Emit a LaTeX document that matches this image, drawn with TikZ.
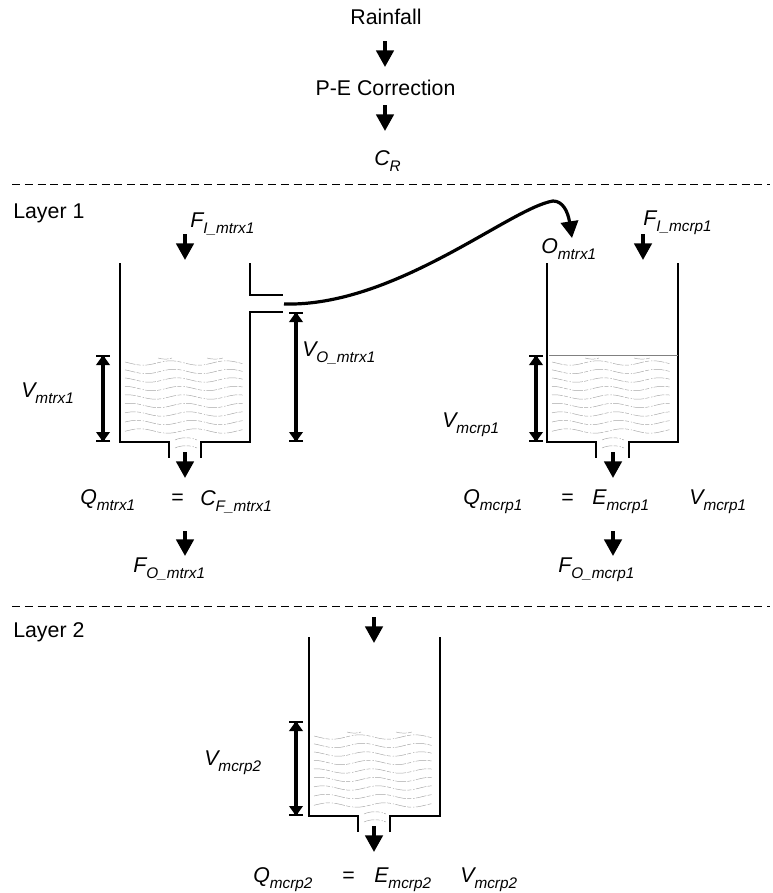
\documentclass[tikz,border=0pt]{standalone}
\usepackage{fontspec}
\setmainfont{Liberation Sans}
\usetikzlibrary{arrows.meta}
\newcommand{\lbl}[2]{{\itshape #1\raisebox{-0.3em}{\fontsize{11.5}{11.5}\selectfont #2}}}
\tikzset{
  x=0.75pt,y=-0.75pt,
  txt/.style={anchor=base west,inner sep=0pt,font=\fontsize{16}{18}\selectfont},
  ctxt/.style={anchor=base,inner sep=0pt,font=\fontsize{16}{18}\selectfont},
  flow/.style={line width=2.8pt,-{Triangle[length=12.5pt,width=13pt]}},
  wall/.style={line width=1pt,line cap=butt},
  dimen/.style={line width=2.6pt,{Bar[width=10.5pt,line width=1.8pt]Triangle[length=7.5pt,width=10pt,sep=-1.8pt]}-{Triangle[length=7.5pt,width=10pt,sep=-1.8pt]Bar[width=10.5pt,line width=1.8pt]}},
  sep/.style={line width=0.7pt,dash pattern=on 6pt off 3.6pt},
  wave/.style={line width=0.35pt,gray!70,dash pattern=on 8pt off 1pt on 3pt off 1.5pt on 1pt off 1pt},
  curve/.style={line width=2.4pt,-{Triangle[length=12.5pt,width=13pt]}}
}
% #1 left x, #2 y of the tank floor: water pattern
\newcommand{\waterpat}[2]{%
  \begin{scope}[shift={(#1,#2)}]
    \foreach \k in {0,...,8}{
      \draw[wave] plot[domain=5:124,samples=40,smooth] (\x,{-11-\k*8.5-2.2*sin(\x*6.5-40+\k*20)});
    }
    \draw[wave] (38,-84) .. controls (43,-82.5) and (48,-82.5) .. (52,-84);
    \draw[wave] (87,-84) .. controls (92,-82.5) and (98,-82.5) .. (103,-84);
    \draw[wave] (55,6) .. controls (61,3) and (71,3) .. (77,6);
    \draw[wave] (55,-2) .. controls (61,-5) and (71,-5) .. (77,-2);
  \end{scope}}
\begin{document}
\begin{tikzpicture}
\useasboundingbox (0,0) rectangle (772,893);

% top stack
\node[ctxt] (rain) at (386,24) {Rainfall};
\node[ctxt] (pe) at (385.5,95) {P-E Correction};
\node[txt] (cr) at (374,165) {\lbl{C}{R}};
\coordinate (a1) at (385,41);\coordinate (a2) at (385,67);
\coordinate (a3) at (385,105);\coordinate (a4) at (385,131);
\draw[flow] (a1) -- (a2);
\draw[flow] (a3) -- (a4);

% separators
\coordinate (s1a) at (12,184);\coordinate (s1b) at (770,184);
\coordinate (s2a) at (12,606);\coordinate (s2b) at (770,606);
\draw[sep] (s1a) -- (s1b);
\draw[sep] (s2a) -- (s2b);
\node[txt] (l1) at (13,218) {Layer 1};
\node[txt] (l2) at (13,637) {Layer 2};

% water
\waterpat{120}{442}
\waterpat{547}{442}
\waterpat{309}{816}

% tank 1
\draw[wall] (120,263) -- (120,442) -- (169,442) -- (169,458);
\draw[wall] (201,458) -- (201,442) -- (250,442) -- (250,312) -- (283,312);
\draw[wall] (250,263) -- (250,295) -- (283,295);
% tank 2
\draw[wall] (547,263) -- (547,442) -- (596,442) -- (596,458);
\draw[wall] (629,458) -- (629,442) -- (678,442) -- (678,263);
\draw[line width=0.5pt,gray] (549,355) -- (678,355);
% tank 3
\draw[wall] (309,637) -- (309,816) -- (358,816) -- (358,832);
\draw[wall] (390,832) -- (390,816) -- (440,816) -- (440,637);

% tank 1 labels and flows
\node[txt] (fi1) at (190,227) {\lbl{F}{I\_mtrx1}};
\coordinate (b1) at (185,234);\coordinate (b2) at (185,260);
\draw[flow] (b1) -- (b2);
\coordinate (d1a) at (103,355);\coordinate (d1b) at (103,442);
\draw[dimen] (d1a) -- (d1b);
\node[txt] (v1) at (21,397) {\lbl{V}{mtrx1}};
\coordinate (d2a) at (296,312);\coordinate (d2b) at (296,442);
\draw[dimen] (d2a) -- (d2b);
\node[txt] (vo1) at (302,356) {\lbl{V}{O\_mtrx1}};
\coordinate (b3) at (185,452);\coordinate (b4) at (185,478);
\draw[flow] (b3) -- (b4);
\node[txt] (q1) at (80,504) {\lbl{Q}{mtrx1}};
\node[txt] (eq1) at (171,504) {=};
\node[txt] (cf1) at (200,505) {\lbl{C}{F\_mtrx1}};
\coordinate (b5) at (185,531);\coordinate (b6) at (185,556);
\draw[flow] (b5) -- (b6);
\node[txt] (fo1) at (133,572) {\lbl{F}{O\_mtrx1}};

% overflow curve
\coordinate (c0) at (284,304);
\coordinate (c1) at (553,201);
\coordinate (c2) at (572,238);
\draw[curve] (c0) .. controls (395,307) and (510,208) .. (c1) .. controls (563,201) and (568,212) .. (c2);
\node[txt] (o1) at (541,253) {\lbl{O}{mtrx1}};

% tank 2 labels and flows
\node[txt] (fi2) at (643,225) {\lbl{F}{I\_mcrp1}};
\coordinate (e1) at (643,234);\coordinate (e2) at (643,260);
\draw[flow] (e1) -- (e2);
\coordinate (d3a) at (536,355);\coordinate (d3b) at (536,442);
\draw[dimen] (d3a) -- (d3b);
\node[txt] (v2) at (442,427) {\lbl{V}{mcrp1}};
\coordinate (e3) at (613,452);\coordinate (e4) at (613,478);
\draw[flow] (e3) -- (e4);
\node[txt] (q2) at (463,504) {\lbl{Q}{mcrp1}};
\node[txt] (eq2) at (561,504) {=};
\node[txt] (ee2) at (592,504) {\lbl{E}{mcrp1}};
\node[txt] (vv2) at (689,504) {\lbl{V}{mcrp1}};
\coordinate (e5) at (613,531);\coordinate (e6) at (613,556);
\draw[flow] (e5) -- (e6);
\node[txt] (fo2) at (558,572) {\lbl{F}{O\_mcrp1}};

% tank 3 labels and flows
\coordinate (g1) at (374,617);\coordinate (g2) at (374,643);
\draw[flow] (g1) -- (g2);
\coordinate (d4a) at (296,721);\coordinate (d4b) at (296,816);
\draw[dimen] (d4a) -- (d4b);
\node[txt] (v3) at (204,765) {\lbl{V}{mcrp2}};
\coordinate (g3) at (374,826);\coordinate (g4) at (374,852);
\draw[flow] (g3) -- (g4);
\node[txt] (q3) at (253,882) {\lbl{Q}{mcrp2}};
\node[txt] (eq3) at (342,882) {=};
\node[txt] (ee3) at (374,882) {\lbl{E}{mcrp2}};
\node[txt] (vv3) at (460,882) {\lbl{V}{mcrp2}};
\end{tikzpicture}
\end{document}
